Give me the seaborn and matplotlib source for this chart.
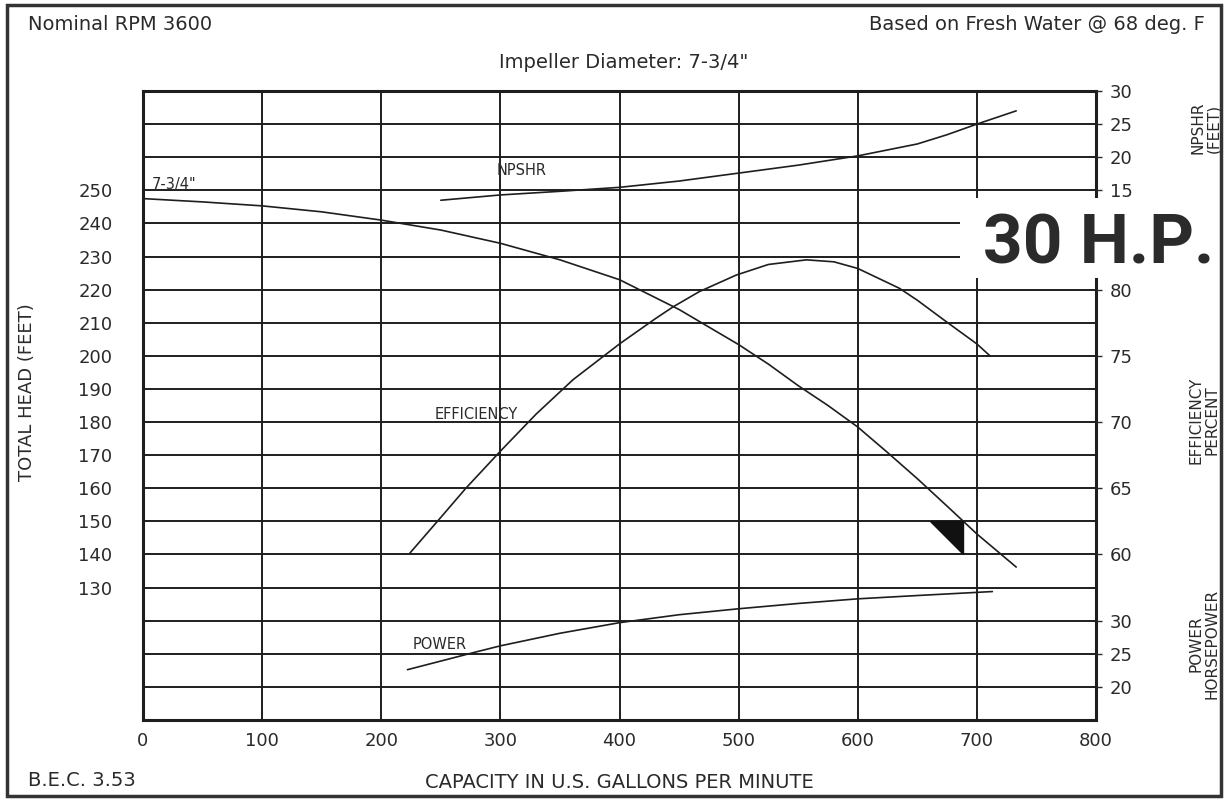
import numpy as np
import pandas as pd
import matplotlib
matplotlib.use("Agg")
import matplotlib.pyplot as plt
from matplotlib.patches import Rectangle
import seaborn as sns

# ---------------------------
# data
# ---------------------------
head_gpm = [0, 50, 100, 150, 200, 250, 300, 350, 400, 450, 500, 525, 550, 575, 600, 625, 650, 675, 700, 733]
head_ft = [247.5, 246.5, 245.3, 243.5, 241.0, 238.0, 234.0, 229.0, 223.0, 214.0, 203.4, 197.5, 191.0, 185.0,
           178.5, 170.8, 162.9, 154.6, 146.2, 136.2]

eff_gpm = [224, 250, 271, 300, 330, 361, 400, 430, 445, 467, 498, 525, 557, 580, 600, 635, 650, 674, 700, 711]
eff_pct = [60.1, 62.8, 65.0, 67.8, 70.6, 73.2, 75.9, 77.8, 78.7, 79.85, 81.1, 81.9, 82.25, 82.1, 81.6, 80.1,
           79.2, 77.6, 75.9, 75.0]

npshr_gpm = [250, 300, 350, 400, 450, 500, 550, 600, 650, 675, 700, 733]
npshr_ft = [13.5, 14.3, 14.85, 15.45, 16.4, 17.6, 18.8, 20.2, 22.0, 23.4, 25.0, 27.0]

power_gpm = [222, 250, 280, 300, 350, 400, 450, 500, 550, 600, 650, 713]
power_hp = [22.6, 23.9, 25.3, 26.2, 28.1, 29.7, 30.9, 31.8, 32.6, 33.3, 33.8, 34.4]

# operating point marker (triangle) in gpm / ft of head
tri_gpm = [661, 688, 688]
tri_ft = [150, 150, 140]

x_ticks = list(range(0, 801, 100))
head_grid = list(range(90, 281, 10))
head_labels = list(range(130, 251, 10))
npshr_ticks = [15, 20, 25, 30]
eff_ticks = [60, 65, 70, 75, 80]
power_ticks = [20, 25, 30]

# ---------------------------
# style
# ---------------------------
sns.set_theme(style="white")
plt.rcParams["font.family"] = ["DejaVu Sans"]
ink = "#1e1e1e"
txt = "#2a2a2a"

fig = plt.figure(figsize=(12.25, 8), dpi=100)
ax = fig.add_axes([143 / 1225, 0.1, 953 / 1225, 629 / 800])

df_head = pd.DataFrame({"gpm": head_gpm, "ft": head_ft})
sns.lineplot(data=df_head, x="gpm", y="ft", ax=ax, color=ink, lw=1.2)
ax.fill(tri_gpm, tri_ft, color="#111111", zorder=4)

ax.set_xlim(0, 800)
ax.set_ylim(90, 280)
ax.set_xticks(x_ticks)
ax.set_yticks(head_grid)
ax.set_yticklabels([str(v) if v in head_labels else "" for v in head_grid])
ax.grid(True, color=ink, lw=1.4)
ax.tick_params(axis="both", length=0, labelsize=13, colors=txt)
ax.tick_params(axis="y", pad=22)
ax.tick_params(axis="x", pad=9)
for s in ax.spines.values():
    s.set_color(ink)
    s.set_linewidth(2.2)
ax.set_xlabel("CAPACITY IN U.S. GALLONS PER MINUTE", fontsize=14, color=txt, labelpad=16)
ax.set_ylabel("")

# right hand scales, aligned to the same grid
ax_np = ax.twinx()
ax_np.set_ylim(-65, 30)
df_np = pd.DataFrame({"gpm": npshr_gpm, "ft": npshr_ft})
sns.lineplot(data=df_np, x="gpm", y="ft", ax=ax_np, color=ink, lw=1.2)
ax_np.set_yticks(npshr_ticks)

ax_ef = ax.twinx()
ax_ef.set_ylim(47.5, 95)
df_ef = pd.DataFrame({"gpm": eff_gpm, "pct": eff_pct})
sns.lineplot(data=df_ef, x="gpm", y="pct", ax=ax_ef, color=ink, lw=1.2)
ax_ef.set_yticks(eff_ticks)

ax_pw = ax.twinx()
ax_pw.set_ylim(15, 110)
df_pw = pd.DataFrame({"gpm": power_gpm, "hp": power_hp})
sns.lineplot(data=df_pw, x="gpm", y="hp", ax=ax_pw, color=ink, lw=1.2)
ax_pw.set_yticks(power_ticks)

for a in (ax_np, ax_ef, ax_pw):
    a.set_ylabel("")
    a.set_xlim(0, 800)
    a.grid(False)
    a.tick_params(axis="y", length=4, width=1, colors=txt, labelsize=13, pad=6, right=True)
    for s in a.spines.values():
        s.set_visible(False)

# curve labels
lab = dict(fontsize=10.5, color=txt)
ax.text(7, 249.5, '7-3/4"', ha="left", va="bottom", **lab)
ax.text(297, 256, "NPSHR", ha="left", va="center", **lab)
ax.text(245, 182.4, "EFFICIENCY", ha="left", va="center", **lab)
ax.text(226, 112.7, "POWER", ha="left", va="center", **lab)

# headers
fig.text(28 / 1225, 1 - 25 / 800, "Nominal RPM 3600", ha="left", va="center", fontsize=14, color=txt)
fig.text(1205 / 1225, 1 - 25 / 800, "Based on Fresh Water @ 68 deg. F", ha="right", va="center", fontsize=14, color=txt)
fig.text(624 / 1225, 1 - 62 / 800, 'Impeller Diameter: 7-3/4"', ha="center", va="center", fontsize=14, color=txt)
fig.text(28 / 1225, 1 - 780 / 800, "B.E.C. 3.53", ha="left", va="center", fontsize=14, color=txt)
fig.text(27 / 1225, 1 - 392 / 800, "TOTAL HEAD (FEET)", rotation=90, ha="center", va="center", fontsize=13, color=txt)
side = dict(rotation=90, ha="center", va="center", fontsize=11, color=txt, linespacing=1.0,
            multialignment="center")
fig.text(1206 / 1225, 1 - 128 / 800, "NPSHR\n(FEET)", **side)
fig.text(1204 / 1225, 1 - 420 / 800, "EFFICIENCY\nPERCENT", **side)
fig.text(1204 / 1225, 1 - 644 / 800, "POWER\nHORSEPOWER", **side)

# white block behind the horsepower stamp
fig.add_artist(Rectangle((960 / 1225, 1 - 278 / 800), (1218 - 960) / 1225, 80 / 800,
                         transform=fig.transFigure, facecolor="white", edgecolor="none", zorder=5))
fig.text(983 / 1225, 1 - 263 / 800, "30 H.P.", ha="left", va="baseline", fontsize=50,
         fontweight="bold", family=["Roboto", "DejaVu Sans"], color="#2b2b2b", zorder=6)

# outer frame
fig.add_artist(Rectangle((7 / 1225, 4 / 800), 1214 / 1225, 791 / 800, transform=fig.transFigure,
                         fill=False, edgecolor="#333333", lw=2.5, zorder=7))

plt.savefig("out.png", dpi=100)
